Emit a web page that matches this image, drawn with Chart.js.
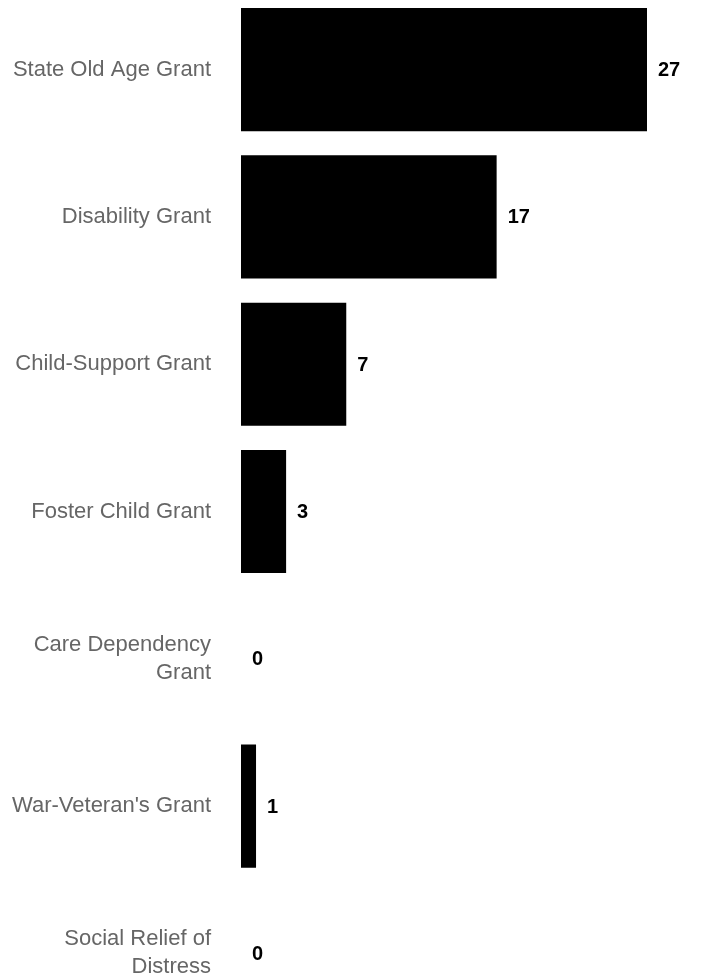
<!DOCTYPE html>
<html>
<head>
<meta charset="utf-8">
<script src="https://cdn.jsdelivr.net/npm/chart.js@4/dist/chart.umd.min.js"></script>
<style>
    html, body { margin: 0; padding: 0; background: #fff; overflow: hidden; }
    #wrap { position: relative; top: -4px; width: 704px; height: 1031px; }
</style>
</head>
<body>
<div id="wrap"><canvas id="myChart"></canvas></div>
<script>
const grants = [
    'State Old Age Grant',
    'Disability Grant',
    'Child-Support Grant',
    'Foster Child Grant',
    ['Care Dependency', 'Grant'],
    "War-Veteran's Grant",
    ['Social Relief of', 'Distress']
];
const counts = [27, 17, 7, 3, 0, 1, 0];

// draws the bold number just past the end of each bar
const valueLabels = {
    id: 'valueLabels',
    afterDatasetsDraw(chart) {
        const ctx = chart.ctx;
        const xs = chart.scales.x;
        const ys = chart.scales.y;
        ctx.save();
        ctx.font = 'bold 20px "Liberation Sans", Arial, sans-serif';
        ctx.fillStyle = '#000';
        ctx.textAlign = 'left';
        ctx.textBaseline = 'middle';
        counts.forEach((v, i) => {
            ctx.fillText(String(v), xs.getPixelForValue(v) + 11, ys.getPixelForValue(i) + 1);
        });
        ctx.restore();
    }
};

window.addEventListener('load', setup);

function setup() {
    const ctx = document.getElementById('myChart').getContext('2d');
    new Chart(ctx, {
        type: 'bar',
        data: {
            labels: grants,
            datasets: [{
                data: counts,
                backgroundColor: '#000',
                borderWidth: 0,
                barPercentage: 0.836,
                categoryPercentage: 1
            }]
        },
        options: {
            indexAxis: 'y',
            responsive: true,
            maintainAspectRatio: false,
            animation: false,
            layout: { padding: { left: 0, right: 57, top: 0, bottom: 0 } },
            plugins: {
                legend: { display: false },
                tooltip: { enabled: false }
            },
            scales: {
                x: {
                    display: false,
                    min: 0,
                    max: 27
                },
                y: {
                    grid: { display: false, drawTicks: true, tickLength: 30 },
                    border: { display: false },
                    ticks: {
                        color: '#666',
                        padding: 0,
                        font: { family: '"Liberation Sans", Arial, sans-serif', size: 22, lineHeight: 1.27 }
                    },
                    afterFit(scale) {
                        scale.width = 241;
                        scale.paddingTop = 0;
                        scale.paddingBottom = 0;
                    }
                }
            }
        },
        plugins: [valueLabels]
    });
}
</script>
</body>
</html>
